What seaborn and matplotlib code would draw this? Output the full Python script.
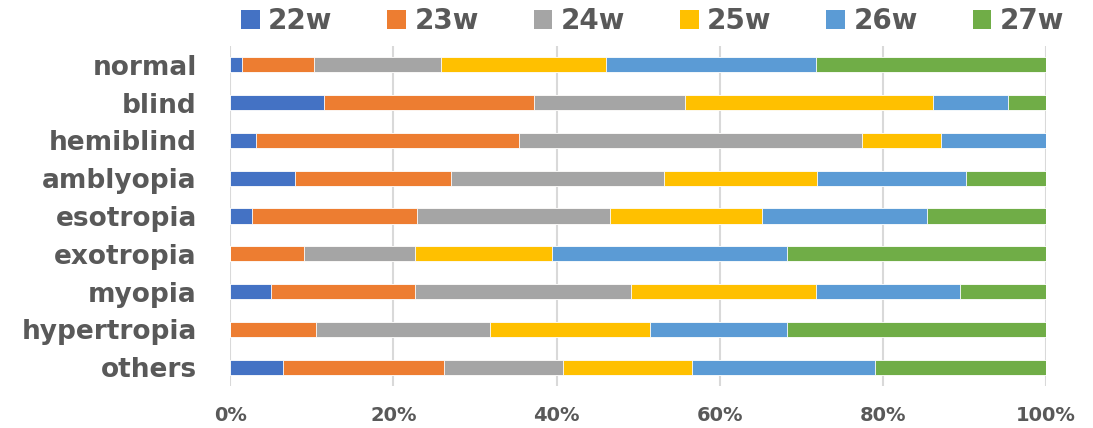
import numpy as np
import pandas as pd
import matplotlib
matplotlib.use("Agg")
import matplotlib.pyplot as plt
import seaborn as sns
from matplotlib.patches import Patch

categories = ["normal", "blind", "hemiblind", "amblyopia", "esotropia",
              "exotropia", "myopia", "hypertropia", "others"]
weeks = ["22w", "23w", "24w", "25w", "26w", "27w"]

# share of each week (%)
w22 = [1.4, 11.5, 3.2, 7.9, 2.7, 0.0, 5.0, 0.0, 6.5]
w23 = [8.9, 25.7, 32.2, 19.2, 20.2, 9.0, 17.6, 10.5, 19.7]
w24 = [15.5, 18.6, 42.1, 26.1, 23.7, 13.7, 26.5, 21.3, 14.6]
w25 = [20.3, 30.3, 9.6, 18.7, 18.6, 16.7, 22.7, 19.7, 15.8]
w26 = [25.7, 9.3, 12.9, 18.3, 20.2, 28.8, 17.6, 16.7, 22.4]
w27 = [28.2, 4.6, 0.0, 9.8, 14.6, 31.8, 10.6, 31.8, 21.0]

colors = ["#4472C4", "#ED7D31", "#A5A5A5", "#FFC000", "#5B9BD5", "#70AD47"]
text_color = "#595959"

df = pd.DataFrame({"category": categories, "22w": w22, "23w": w23, "24w": w24,
                   "25w": w25, "26w": w26, "27w": w27})
cum = df[weeks].cumsum(axis=1)
cum = cum.div(cum["27w"], axis=0) * 100
cum["category"] = categories

sns.set_style("white")
plt.rcParams['font.family'] = ['DejaVu Sans']

fig = plt.figure(figsize=(10.93, 4.28), dpi=100)
ax = fig.add_axes([0.2107, 0.098, 0.7463, 0.7944])

# draw from the outermost stack inwards so each segment overlays the next
for week, color in reversed(list(zip(weeks, colors))):
    sns.barplot(data=cum, x=week, y="category", color=color, orient="h",
                width=0.4, saturation=1, edgecolor="white", linewidth=0.6,
                ax=ax, zorder=3)

ax.set_xlim(0, 100)
ax.set_ylim(8.5, -0.5)
ax.set_xticks(np.arange(0, 101, 20))
ax.set_xticklabels([f"{v}%" for v in range(0, 101, 20)])
ax.xaxis.grid(True, color="#D9D9D9", linewidth=1.5, zorder=0)
ax.yaxis.grid(False)
ax.set_axisbelow(True)
for s in ax.spines.values():
    s.set_visible(False)
ax.set_xlabel("")
ax.set_ylabel("")
ax.tick_params(axis="x", length=0, pad=14, labelcolor=text_color)
ax.tick_params(axis="y", length=0, pad=24, labelcolor=text_color)
for lbl in ax.get_xticklabels():
    lbl.set_fontweight("bold")
    lbl.set_fontsize(14)
for lbl in ax.get_yticklabels():
    lbl.set_fontweight("bold")
    lbl.set_fontsize(19)

handles = [Patch(facecolor=c, edgecolor="none", label=w) for w, c in zip(weeks, colors)]
leg = fig.legend(handles=handles, loc="center", bbox_to_anchor=(0.597, 0.951),
                 ncol=6, frameon=False, handlelength=0.68,
                 handleheight=0.68, handletextpad=0.3, columnspacing=1.97,
                 prop={"family": "DejaVu Sans", "weight": "bold", "size": 20})
for t in leg.get_texts():
    t.set_color(text_color)

fig.savefig("out.png", dpi=100)
